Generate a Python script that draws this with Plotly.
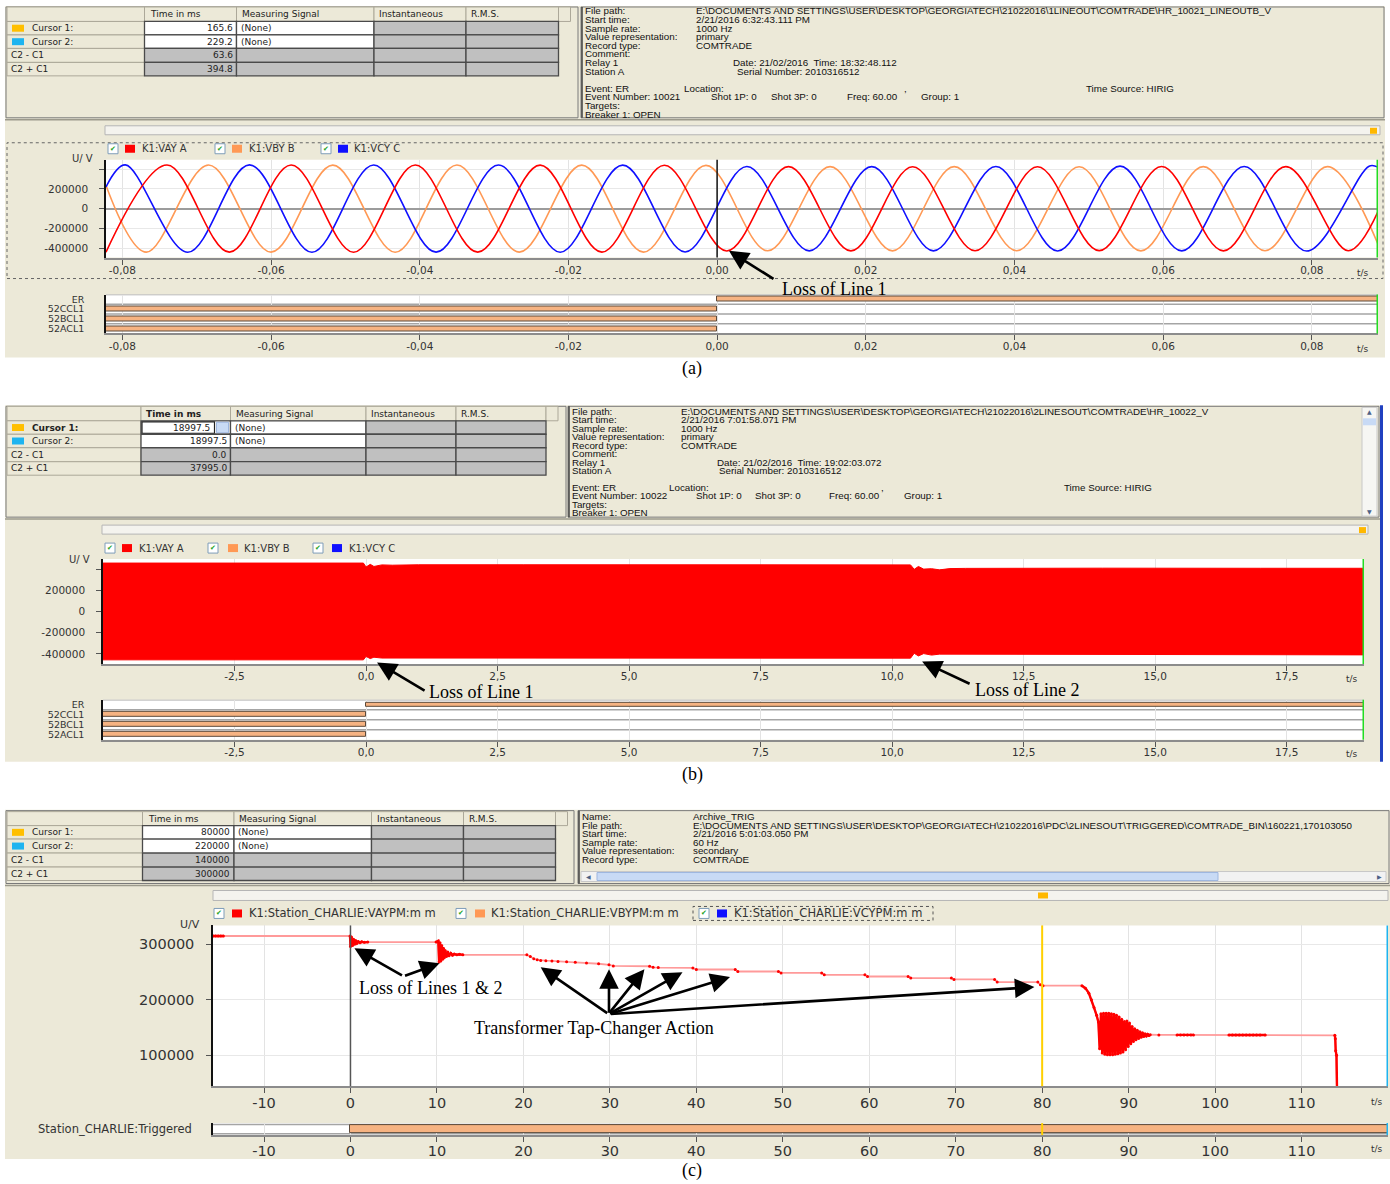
import plotly.graph_objects as go

W, H = 1390, 1184

# ======================= DATA =======================
# ---- panel (a): one line out; phase voltages, extrema (s, V)
a_vay_t = [-0.0822, -0.0740, -0.0656, -0.0573, -0.0489, -0.0406, -0.0322, -0.0238, -0.0155, -0.0071, 0.0013,
           0.0096, 0.0180, 0.0263, 0.0347, 0.0431, 0.0514, 0.0598, 0.0681, 0.0765, 0.0849, 0.0889]
a_vay_v = [-440000, 442000, -440000, 442000, -441000, 441000, -440000, 440000, -440000, 439000, -428000,
           425000, -427000, 424000, -426000, 424000, -425000, 426000, -427000, 425000, -426000, -30000]
a_vby_t = [-0.0822, -0.0768, -0.0684, -0.0600, -0.0517, -0.0433, -0.0350, -0.0266, -0.0182, -0.0099, -0.0015,
           0.0068, 0.0152, 0.0236, 0.0319, 0.0403, 0.0487, 0.0570, 0.0654, 0.0737, 0.0821, 0.0889]
a_vby_v = [235000, -440000, 441000, -440000, 440000, -441000, 441000, -440000, 440000, -440000, 438000,
           -426000, 425000, -427000, 425000, -426000, 424000, -427000, 425000, -426000, 425000, -360000]
a_vcy_t = [-0.0822, -0.0796, -0.0712, -0.0629, -0.0545, -0.0462, -0.0378, -0.0294, -0.0211, -0.0127, -0.0043,
           0.0040, 0.0124, 0.0208, 0.0291, 0.0375, 0.0458, 0.0542, 0.0625, 0.0709, 0.0793, 0.0877, 0.0889]
a_vcy_v = [220000, 443000, -441000, 443000, -441000, 442000, -440000, 441000, -441000, 440000, -438000,
           426000, -427000, 425000, -427000, 426000, -428000, 430000, -427000, 426000, -429000, 430000, 420000]
a_record = [-0.0822, 0.0889]
a_cursor = [0.0]
a_status_names = ["ER", "52CCL1", "52BCL1", "52ACL1"]
a_status_on = [0.0, -0.0822, -0.0822, -0.0822]
a_status_off = [0.0889, 0.0, 0.0, 0.0]
a_xticks = [-0.08, -0.06, -0.04, -0.02, 0.0, 0.02, 0.04, 0.06, 0.08]
a_xlabels = ["-0,08", "-0,06", "-0,04", "-0,02", "0,00", "0,02", "0,04", "0,06", "0,08"]
v_yticks = [-400000, -200000, 0, 200000, 400000]
v_ylabels = ["-400000", "-200000", "0", "200000", ""]
a_table_time = ["165.6", "229.2", "63.6", "394.8"]

# ---- panel (b): two lines out; envelope of the phase-A band (s, V)
b_up_t = [-5.0, -0.05, 0.0, 0.08, 0.15, 0.3, 0.5, 1.0, 3.0, 6.0, 9.0, 10.35, 10.42, 10.5, 10.6, 10.75, 10.9,
          11.1, 11.4, 12.0, 14.0, 17.0, 18.97]
b_up_v = [457000, 457000, 420000, 445000, 425000, 440000, 437000, 441000, 441000, 440000, 440000, 440000,
          398000, 425000, 400000, 404000, 393000, 405000, 407000, 409000, 409000, 408000, 408000]
b_dn_t = [-5.0, -0.05, 0.0, 0.08, 0.15, 0.3, 0.5, 1.0, 3.0, 6.0, 9.0, 10.35, 10.42, 10.5, 10.6, 10.75, 10.9,
          11.1, 11.4, 12.0, 14.0, 17.0, 18.97]
b_dn_v = [-457000, -457000, -425000, -445000, -432000, -440000, -438000, -441000, -441000, -441000, -441000,
          -441000, -395000, -420000, -398000, -412000, -403000, -408000, -409000, -410000, -410000, -410000,
          -410000]
b_record = [-5.0, 18.97]
b_status_names = ["ER", "52CCL1", "52BCL1", "52ACL1"]
b_status_on = [0.0, -5.0, -5.0, -5.0]
b_status_off = [18.97, 0.0, 0.0, 0.0]
b_xticks = [-2.5, 0.0, 2.5, 5.0, 7.5, 10.0, 12.5, 15.0, 17.5]
b_xlabels = ["-2,5", "0,0", "2,5", "5,0", "7,5", "10,0", "12,5", "15,0", "17,5"]
b_table_time = ["18997.5", "18997.5", "0.0", "37995.0"]

# ---- panel (c): PMU phase-A magnitude (s, V)
c_t = [-15.9, -15.6, -15.3, -15.0, -14.7, -0.05,
       0.0, 0.12, 0.24, 0.36, 0.48, 0.6, 0.75, 0.9, 1.1, 1.3, 1.6, 2.0, 9.9,
       10.15, 10.25, 10.35, 10.45, 10.55, 10.65, 10.75, 10.85, 10.95, 11.1, 11.25, 11.4, 11.6, 11.8, 12.0,
       12.3, 12.6, 13.0, 20.4,
       20.8, 21.2, 21.6, 22.0, 22.6, 23.3, 24.0, 25.0, 26.0, 27.3, 28.7, 29.9, 30.4, 34.6, 35.0, 35.6, 39.6,
       40.0, 44.5, 44.8, 49.5, 49.8, 54.5, 54.8, 59.5, 59.8, 64.5, 64.8, 69.5, 69.8, 74.5, 74.8, 79.5, 79.8,
       80.1, 84.6, 85.0, 85.4, 85.7, 86.0, 86.3,
       86.50, 86.65, 86.80, 86.95, 87.10, 87.25, 87.40, 87.55, 87.70, 87.85, 88.00, 88.15, 88.30, 88.45,
       88.60, 88.75, 88.90, 89.05, 89.20, 89.35, 89.50, 89.65, 89.80, 89.95, 90.10, 90.25, 90.40, 90.55,
       90.70, 90.85, 91.00, 91.15, 91.30, 91.45, 91.60, 91.75, 91.90, 92.05, 92.20, 92.35, 92.50,
       93.5, 95.6, 96.0, 96.4, 96.8, 97.2, 97.5,
       101.6, 102.0, 102.4, 102.8, 103.2, 103.6, 104.0, 104.4, 104.8, 105.2, 105.8,
       113.85, 113.9, 113.95, 114.05, 114.1]
c_v = [315000, 315000, 315000, 315000, 315000, 315000,
       296000, 313000, 298000, 309000, 300000, 307000, 302000, 305000, 303000, 304500, 303500, 304000, 304000,
       306000, 268000, 303000, 270000, 298000, 273000, 293000, 276000, 289000, 278000, 286000, 279500, 284000,
       280500, 282500, 281000, 282000, 281000, 281000,
       278000, 274000, 272000, 271000, 270500, 270000, 269000, 268500, 267500, 266500, 265000, 263000, 261000,
       260500, 258500, 258000, 257500,
       254600, 254600, 251000, 251000, 248400, 248400, 245000, 245000, 242000, 242000, 239100, 239100, 236700,
       236700, 232000, 232000, 227000,
       225400, 225400, 221000, 212000, 200000, 186000, 172000,
       160000, 112000, 175000, 104000, 176000, 102000, 176000, 101000, 176000, 101000, 175000, 101000, 174000,
       102000, 172000, 103000, 169000, 104000, 165000, 106000, 161000, 110000, 162000, 116000, 158000, 121000,
       152000, 125000, 148000, 128000, 145000, 130500, 142500, 132500, 140500, 134000, 139000, 135000, 138000,
       135800, 137000,
       136800, 136800, 136800, 136800, 136800, 136800, 136800,
       136500, 136500, 136500, 136500, 136500, 136500, 136500, 136500, 136500, 136500, 136500,
       136000, 130000, 108000, 100000, 40000]
# time windows (s) where the record is drawn dense/solid red (transients, dense samples)
c_dense_windows = [(-15.9, -14.7), (-0.05, 2.0), (9.9, 13.0), (84.6, 92.5), (95.6, 97.5), (101.6, 105.8),
                   (113.85, 114.1)]
c_record = [-15.9, 120.0]
c_cursors = [0.0, 80.0, 120.0]
c_status_names = ["Station_CHARLIE:Triggered"]
c_status_on = [0.0]
c_status_off = [120.0]
c_xticks = [-10, 0, 10, 20, 30, 40, 50, 60, 70, 80, 90, 100, 110]
c_xlabels = ["-10", "0", "10", "20", "30", "40", "50", "60", "70", "80", "90", "100", "110"]
c_yticks = [100000, 200000, 300000]
c_ylabels = ["100000", "200000", "300000"]
c_yrange = [44400, 334000]
c_table_time = ["80000", "220000", "140000", "300000"]

v_range = [-495000, 495000]
table_rows = ["Cursor 1:", "Cursor 2:", "C2 - C1", "C2 + C1"]
table_header = ["", "Time in ms", "Measuring Signal", "Instantaneous", "R.M.S."]
table_signal = ["(None)", "(None)", "", ""]

# ======================= STYLE HELPERS =======================
BEIGE = '#ECE9D8'
GCELL = '#C0C0C0'
UI = 'DejaVu Sans'
INFO = 'Liberation Sans'
SERIF = 'Liberation Serif'
RED, ORANGE, BLUE = '#FF0000', '#FF9955', '#1010FF'
BAR_FILL = '#F6B382'
TFS = 9          # table font size
IFS = 9.8        # info panel font size


def px(x):
    return x / W


def py(y):
    return 1 - y / H


shapes, annotations = [], []


def rect(x0, y0, x1, y1, fill=None, line=None, lw=1, dash=None, layer='below'):
    ln = dict(width=lw if line else 0, color=line if line else 'rgba(0,0,0,0)')
    if dash:
        ln['dash'] = dash
    d = dict(type='rect', xref='paper', yref='paper', x0=px(x0), x1=px(x1), y0=py(y1), y1=py(y0),
             layer=layer, line=ln)
    d['fillcolor'] = fill if fill else 'rgba(0,0,0,0)'
    shapes.append(d)


def hline(x0, x1, y, color, lw=1):
    shapes.append(dict(type='line', xref='paper', yref='paper', x0=px(x0), x1=px(x1), y0=py(y), y1=py(y),
                       line=dict(color=color, width=lw), layer='below'))


def vline_px(x, y0, y1, color, lw=1):
    shapes.append(dict(type='line', xref='paper', yref='paper', x0=px(x), x1=px(x), y0=py(y0), y1=py(y1),
                       line=dict(color=color, width=lw), layer='below'))


def text(x, y, s, size=9, font=UI, color='#222', xanchor='left', yanchor='middle'):
    annotations.append(dict(x=px(x), y=py(y), xref='paper', yref='paper', text=s, showarrow=False,
                            xanchor=xanchor, yanchor=yanchor, borderpad=0,
                            font=dict(family=font, size=size, color=color)))


def checkbox(x, y):
    rect(x, y - 5, x + 10, y + 5, fill='white', line='#7F9DB9')
    text(x + 5, y, '✔', size=7, color='#21A121', xanchor='center')


def legend_item(xc, xs, xt, y, color, label, size):
    checkbox(xc, y)
    rect(xs, y - 4, xs + 10, y + 4, fill=color)
    text(xt, y, label, size=size, color='#333')


def arrow(x, y, xref, yref, ax, ay):
    annotations.append(dict(x=x, y=y, xref=xref, yref=yref, ax=ax, ay=ay, axref='pixel', ayref='pixel',
                            text='', showarrow=True, arrowhead=2, arrowsize=1.5, arrowwidth=2.6,
                            arrowcolor='black'))


fig = go.Figure()
layout_axes = {}


def set_axes(i, xdom, ydom, xr, yr, xt, xl, yt, yl, fsize, status=False, zero=False, ystand=9, sfs=9.5):
    xn = 'xaxis' if i == 1 else 'xaxis%d' % i
    yn = 'yaxis' if i == 1 else 'yaxis%d' % i
    xa = 'x' if i == 1 else 'x%d' % i
    ya = 'y' if i == 1 else 'y%d' % i
    layout_axes[xn] = dict(domain=[px(xdom[0]), px(xdom[1])], range=xr, anchor=ya, tickmode='array',
                           tickvals=xt, ticktext=xl, showgrid=True, gridcolor='#E3E3E3', gridwidth=1,
                           showline=True, linecolor='#8C8C8C', linewidth=2, ticks='outside', ticklen=5,
                           tickcolor='#555', tickfont=dict(family=UI, size=fsize, color='#333'),
                           zeroline=False, fixedrange=True, ticklabelstandoff=-3)
    layout_axes[yn] = dict(domain=[py(ydom[1]), py(ydom[0])], range=yr, anchor=xa, tickmode='array',
                           tickvals=yt, ticktext=yl, showgrid=not status, gridcolor='#E8E8E8',
                           showline=True, linecolor='#111', linewidth=1.5,
                           ticks='' if status else 'outside', ticklen=5, tickcolor='#555',
                           tickfont=dict(family=UI, size=(sfs if status else fsize), color='#333'),
                           zeroline=zero, zerolinecolor='#9C9C9C', zerolinewidth=2, fixedrange=True,
                           ticklabelstandoff=ystand)
    return xa, ya


def add_status(names, on, off, xa, ya, bar_w, sep):
    rows = list(range(len(names) - 1, -1, -1))
    for r in rows:
        for s in sep:
            shapes.append(dict(type='line', xref=xa + ' domain', yref=ya, x0=0, x1=1, y0=r + s, y1=r + s,
                               line=dict(color='#A5A5A5', width=1.5), layer='below'))
    fig.add_trace(go.Bar(y=rows, x=[b - a for a, b in zip(on, off)], base=on, orientation='h', width=bar_w,
                         marker=dict(color=BAR_FILL, line=dict(color='#5C4A3A', width=1)),
                         xaxis=xa, yaxis=ya, hoverinfo='skip', showlegend=False))
    return rows


def draw_table(cx, ry, times, bold=False, spin=False):
    for j in range(5):
        rect(cx[j], ry[0], cx[j + 1], ry[1], fill=BEIGE, line='#ACA899')
        h = table_header[j]
        if bold and j == 1:
            h = '<b>' + h + '</b>'
        if h:
            text(cx[j] + 4, (ry[0] + ry[1]) / 2, h, size=TFS, color='#222')
    rect(cx[5], ry[0], cx[5] + 12, ry[1], fill=BEIGE, line='#ACA899')
    for r in range(4):
        y0, y1 = ry[r + 1], ry[r + 2]
        ym = (y0 + y1) / 2
        fills = [BEIGE, 'white' if r < 2 else GCELL, 'white' if r < 2 else GCELL, GCELL, GCELL]
        for j in range(5):
            rect(cx[j], y0, cx[j + 1], y1, fill=fills[j], line='#ACA899' if j == 0 else '#4A4A4A',
                 lw=1 if j == 0 else 1.3)
        lab = table_rows[r]
        if bold and r == 0:
            lab = '<b>' + lab + '</b>'
        if r < 2:
            rect(cx[0] + 5, ym - 3.5, cx[0] + 17, ym + 3.5, fill=['#FFBF00', '#1EB4F0'][r])
            text(cx[0] + 24, ym, lab, size=TFS, color='#222')
        else:
            text(cx[0] + 3, ym, lab, size=TFS, color='#222')
        xr = cx[2] - 3
        if spin and r == 0:
            rect(cx[1] + 1, y0 + 1, cx[2] - 16, y1 - 1, line='#222222', lw=1.2)
            rect(cx[2] - 14, y0 + 1.5, cx[2] - 2, y1 - 1.5, fill='#C8DAF5', line='#9DB6DF')
            xr = cx[2] - 19
        text(xr, ym, times[r], size=TFS, color='#222', xanchor='right')
        if table_signal[r]:
            text(cx[2] + 3, ym, table_signal[r], size=TFS, color='#222')


def info_block(xl, xv, ys, labels, values, extras):
    for y, l in zip(ys, labels):
        text(xl, y, l, size=IFS, font=INFO, color='#111')
    for y, v in zip(ys, values):
        text(xv, y, v, size=IFS, font=INFO, color='#111')
    for x, y, s in extras:
        text(x, y, s, size=IFS, font=INFO, color='#111')


# ======================= BACKGROUND CHROME =======================
# panel (a)
rect(5, 5, 1385, 357, fill=BEIGE)
rect(6, 6, 578, 117, line='#7A7A7A')
rect(581, 6, 1384, 117, line='#7A7A7A')
vline_px(582, 6, 117, '#404040', 1.5)
hline(5, 1385, 119, '#9C9A8C', 1.5)
rect(105, 125, 1380, 134, fill='#F4F3EE', line='#B5B5B5')
rect(1370, 127, 1377, 133, fill='#FFB800')
rect(7, 142, 1383, 278, line='#666666', dash='dot')
rect(106, 159, 1378, 257, fill='white')
rect(106, 294, 1378, 333, fill='white')
# panel (b)
rect(5, 405, 1380, 762, fill=BEIGE)
rect(6, 406, 566, 517, line='#7A7A7A')
rect(568, 406, 1379, 517, line='#7A7A7A')
vline_px(569, 406, 517, '#404040', 1.5)
rect(1362, 407, 1377, 516, fill='#F6F6F3', line='#C8C8C8')
rect(1363, 418, 1376, 425, fill='#C8DAF5')
text(1369.5, 411, '▲', size=6, color='#4D6185', xanchor='center')
text(1369.5, 511, '▼', size=6, color='#4D6185', xanchor='center')
hline(5, 1380, 519, '#9C9A8C', 1.5)
rect(102, 525, 1368, 534, fill='#F4F3EE', line='#B5B5B5')
rect(1359, 527, 1366, 533, fill='#FFB800')
vline_px(1381.5, 405, 762, '#2040C0', 3)
rect(103, 559, 1364, 664, fill='white')
rect(103, 700, 1364, 740, fill='white')
# panel (c)
rect(5, 810, 1390, 1160, fill=BEIGE)
rect(6, 811, 574, 884, line='#7A7A7A')
rect(578, 811, 1389, 884, line='#7A7A7A')
vline_px(579, 811, 884, '#404040', 1.5)
rect(581, 872, 1386, 882, fill='#F2F2F2', line='#C8C8C8')
rect(597, 873, 1218, 881, fill='#C8DAF5', line='#9DB6DF')
text(588, 877, '◀', size=6, color='#4D6185', xanchor='center')
text(1379, 877, '▶', size=6, color='#4D6185', xanchor='center')
hline(5, 1390, 886, '#9C9A8C', 1.5)
rect(213, 891, 1388, 901, fill='#F4F3EE', line='#B5B5B5')
rect(1038, 893, 1048, 899, fill='#FFB800')
rect(693, 907, 933, 921, line='#555555', dash='dot')
rect(213, 926, 1388, 1087, fill='white')
rect(213, 1124, 1388, 1136, fill='white')

# ======================= TABLES & INFO =======================
draw_table([7, 144.5, 236.5, 374, 466, 558.5], [6, 20.5, 34, 47.5, 61.5, 75], a_table_time)
draw_table([7, 141, 230.5, 366, 456, 546], [406, 420.5, 434, 447.5, 461.5, 475], b_table_time, bold=True,
           spin=True)
draw_table([7, 142.5, 234, 371.5, 463.5, 555.5], [812, 826, 839.5, 853.5, 867.5, 881], c_table_time)

labels_ab = ["File path:", "Start time:", "Sample rate:", "Value representation:", "Record type:", "Comment:",
             "Relay 1", "Station A", "Event: ER", None, "Targets:", "Breaker 1: OPEN"]
ya_ = [10, 18.6, 27.2, 35.8, 44.4, 53, 61.6, 70.2, 87.4, 96, 104.6, 113.2]
la = list(labels_ab)
la[9] = "Event Number: 10021"
info_block(584, 695, ya_, la,
           ["E:\\DOCUMENTS AND SETTINGS\\USER\\DESKTOP\\GEORGIATECH\\21022016\\1LINEOUT\\COMTRADE\\HR_10021_LINEOUTB_V",
            "2/21/2016 6:32:43.111 PM", "1000 Hz", "primary", "COMTRADE"],
           [(732, 61.6, "Date: 21/02/2016  Time: 18:32:48.112"), (736, 70.2, "Serial Number: 2010316512"),
            (683, 87.4, "Location:"), (903, 87.4, ","), (1085, 87.4, "Time Source: HIRIG"),
            (710, 96, "Shot 1P: 0"), (770, 96, "Shot 3P: 0"), (846, 96, "Freq: 60.00"), (920, 96, "Group: 1")])
yb_ = [411, 419.5, 428, 436.4, 444.8, 453.3, 461.8, 470.2, 487.1, 495.6, 504, 512.5]
lb = list(labels_ab)
lb[9] = "Event Number: 10022"
info_block(571, 680, yb_, lb,
           ["E:\\DOCUMENTS AND SETTINGS\\USER\\DESKTOP\\GEORGIATECH\\21022016\\2LINESOUT\\COMTRADE\\HR_10022_V",
            "2/21/2016 7:01:58.071 PM", "1000 Hz", "primary", "COMTRADE"],
           [(716, 461.8, "Date: 21/02/2016  Time: 19:02:03.072"), (718, 470.2, "Serial Number: 2010316512"),
            (668, 487.1, "Location:"), (880, 487.1, ","), (1063, 487.1, "Time Source: HIRIG"),
            (695, 495.6, "Shot 1P: 0"), (754, 495.6, "Shot 3P: 0"), (828, 495.6, "Freq: 60.00"),
            (903, 495.6, "Group: 1")])
info_block(581, 692, [817, 825.5, 834, 842.5, 851, 859.5],
           ["Name:", "File path:", "Start time:", "Sample rate:", "Value representation:", "Record type:"],
           ["Archive_TRIG",
            "E:\\DOCUMENTS AND SETTINGS\\USER\\DESKTOP\\GEORGIATECH\\21022016\\PDC\\2LINESOUT\\TRIGGERED\\COMTRADE_BIN\\160221,170103050",
            "2/21/2016 5:01:03.050 PM", "60 Hz", "secondary", "COMTRADE"], [])

# ======================= LEGENDS / LABELS =======================
legend_item(108, 125, 141, 148, RED, "K1:VAY A", 10)
legend_item(215, 232, 248, 148, ORANGE, "K1:VBY B", 10)
legend_item(321, 338, 353, 148, BLUE, "K1:VCY C", 10)
legend_item(105, 122, 138, 548, RED, "K1:VAY A", 10)
legend_item(208, 228, 243, 548, ORANGE, "K1:VBY B", 10)
legend_item(313, 332, 348, 548, BLUE, "K1:VCY C", 10)
legend_item(214, 232, 248, 914, RED, "K1:Station_CHARLIE:VAYPM:m m", 11.5)
legend_item(456, 475, 490, 914, ORANGE, "K1:Station_CHARLIE:VBYPM:m m", 11.5)
legend_item(699, 717, 733, 914, BLUE, "K1:Station_CHARLIE:VCYPM:m m", 11.5)

text(94, 158, "U/ V", size=10, color='#333', xanchor='right')
text(91, 559, "U/ V", size=10, color='#333', xanchor='right')
text(201, 925, "U/V", size=11, color='#333', xanchor='right')
for x, y in [(1363, 272), (1363, 349), (1352, 679), (1352, 754), (1377, 1103), (1377, 1150)]:
    text(x, y, "t/s", size=9, color='#333', xanchor='center')

for s, y in [("(a)", 368), ("(b)", 775), ("(c)", 1171)]:
    text(692, y, s, size=18, font=SERIF, color='black', xanchor='center')

text(834, 288, "Loss of Line 1", size=18, font=SERIF, color='black', xanchor='center')
text(481, 692, "Loss of Line 1", size=18, font=SERIF, color='black', xanchor='center')
text(1027, 690, "Loss of Line 2", size=18, font=SERIF, color='black', xanchor='center')
text(431, 989, "Loss of Lines 1 &amp; 2", size=18, font=SERIF, color='black', xanchor='center')
text(594, 1029, "Transformer Tap-Changer Action", size=18, font=SERIF, color='black', xanchor='center')

# ======================= AXES =======================
xa1, ya1 = set_axes(1, (106, 1378), (159, 257), a_record, v_range, a_xticks, a_xlabels, v_yticks, v_ylabels,
                    10.5, zero=True)
xa2, ya2 = set_axes(2, (106, 1378), (294, 333), a_record, [-0.5, 3.5], a_xticks, a_xlabels,
                    [3, 2, 1, 0], a_status_names, 10.5, status=True, ystand=18)
xa3, ya3 = set_axes(3, (103, 1364), (559, 664), b_record, v_range, b_xticks, b_xlabels, v_yticks, v_ylabels,
                    10.5, zero=True)
xa4, ya4 = set_axes(4, (103, 1364), (700, 740), b_record, [-0.5, 3.5], b_xticks, b_xlabels,
                    [3, 2, 1, 0], b_status_names, 10.5, status=True, ystand=15)
xa5, ya5 = set_axes(5, (213, 1388), (926, 1087), c_record, c_yrange, c_xticks, c_xlabels, c_yticks, c_ylabels,
                    14.5)
xa6, ya6 = set_axes(6, (213, 1388), (1124, 1136), c_record, [-0.5, 0.5], c_xticks, c_xlabels,
                    [0], c_status_names, 14.5, status=True, ystand=17, sfs=11.5)

# ======================= TRACES =======================
for t, v, col in [(a_vby_t, a_vby_v, ORANGE), (a_vcy_t, a_vcy_v, BLUE), (a_vay_t, a_vay_v, RED)]:
    fig.add_trace(go.Scatter(x=t, y=v, mode='lines', line=dict(color=col, width=1.6, shape='spline', smoothing=1.0),
                             xaxis=xa1, yaxis=ya1, hoverinfo='skip', showlegend=False))
add_status(a_status_names, a_status_on, a_status_off, xa2, ya2, 0.5, [0.5])

fig.add_trace(go.Scatter(x=b_up_t + b_dn_t[::-1], y=b_up_v + b_dn_v[::-1], mode='lines', fill='toself',
                         fillcolor=RED, line=dict(color=RED, width=1), xaxis=xa3, yaxis=ya3,
                         hoverinfo='skip', showlegend=False))
add_status(b_status_names, b_status_on, b_status_off, xa4, ya4, 0.5, [0.5])

fig.add_trace(go.Scatter(x=c_t, y=c_v, mode='lines+markers', line=dict(color='#FF9A9A', width=1.8),
                         marker=dict(color=RED, size=3), xaxis=xa5, yaxis=ya5, hoverinfo='skip',
                         showlegend=False))
dense_x, dense_y = [], []
for lo, hi in c_dense_windows:
    for t, v in zip(c_t, c_v):
        if lo <= t <= hi:
            dense_x.append(t)
            dense_y.append(v)
    dense_x.append(None)
    dense_y.append(None)
fig.add_trace(go.Scatter(x=dense_x, y=dense_y, mode='lines', line=dict(color=RED, width=2.4),
                         xaxis=xa5, yaxis=ya5, hoverinfo='skip', showlegend=False, connectgaps=False))
add_status(c_status_names, c_status_on, c_status_off, xa6, ya6, 0.7, [0.38, -0.38])


# cursor lines
def vcursor(x, xa, ya, color, lw):
    shapes.append(dict(type='line', xref=xa, yref=ya + ' domain', x0=x, x1=x, y0=0, y1=1,
                       line=dict(color=color, width=lw), layer='above'))


for c in a_cursor:
    vcursor(c, xa1, ya1, '#111111', 1.5)
vcursor(a_record[1], xa1, ya1, '#22DD22', 3)
vcursor(a_record[1], xa2, ya2, '#22DD22', 3)
vcursor(b_record[1], xa3, ya3, '#22DD22', 3)
vcursor(b_record[1], xa4, ya4, '#22DD22', 3)
vcursor(c_cursors[0], xa5, ya5, '#555555', 1.5)
vcursor(c_cursors[1], xa5, ya5, '#FFD000', 2)
vcursor(c_cursors[1], xa6, ya6, '#FFD000', 2)
vcursor(c_cursors[2], xa5, ya5, '#1EB4F0', 3)
vcursor(c_cursors[2], xa6, ya6, '#1EB4F0', 3)

# ======================= ARROWS =======================
arrow(0.0016, -427000, xa1, ya1, 46, 29)
arrow(0.21, -481000, xa3, ya3, 49, 29)
arrow(10.57, -472000, xa3, ya3, 49, 23)
arrow(0.46, 292800, xa5, ya5, 49, 28)
arrow(10.3, 265900, xa5, ya5, -36, 13)
for (t, v, ax, ay) in [(22.0, 258800, 68, 47), (29.9, 255200, 0, 45), (34.0, 255200, -36, 45),
                       (38.4, 249800, -74, 42), (43.9, 240900, -121, 37), (79.1, 222900, -425, 27)]:
    arrow(t, v, xa5, ya5, ax, ay)

fig.update_layout(width=W, height=H, margin=dict(l=0, r=0, t=0, b=0), paper_bgcolor='white',
                  plot_bgcolor='white', showlegend=False, shapes=shapes, annotations=annotations,
                  bargap=0, **layout_axes)
fig.write_html("out.html", config={'displayModeBar': False},
               post_script="document.body.style.margin='0px';document.body.style.overflow='hidden';")
